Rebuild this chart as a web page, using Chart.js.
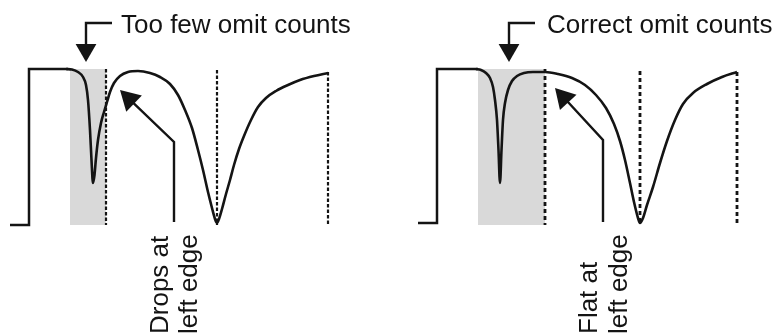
<!DOCTYPE html>
<html>
<head>
<meta charset="utf-8">
<title>Omit counts</title>
<script src="https://cdn.jsdelivr.net/npm/chart.js@4/dist/chart.umd.min.js"></script>
<style>
  html, body { margin: 0; padding: 0; background: #ffffff; overflow: hidden; }
  #wrap { width: 778px; height: 336px; position: relative; }
</style>
</head>
<body>
<div id="wrap"><canvas id="c" width="778" height="336"></canvas></div>
<script>
// ---- Data (diagram units: x across, y down; 1 unit = 1 px) ----
const titles = ['Too few omit counts', 'Correct omit counts'];
const notes = [['Drops at', 'left edge'], ['Flat at', 'left edge']];

// Left panel: "Too few omit counts"
const leftStep = [[10,225],[29,225],[29,69],[68,69]];
const leftCurve = [
  [66,69],[72,69.5],[78,72],[83,77],[86,85],[88,100],[90,130],[91.5,160],[93,183],
  [94.5,175],[96,158],[98,140],[101,123],[104,112],[107,102],[110,92],[114,83],
  [120,76],[128,72],[138,71],[150,73],[160,77],[170,84],[178,95],[185,110],
  [192,128],[198,150],[203,170],[208,192],[212,208],[215,219],[217,223],
  [219,219],[222,209],[226,194],[230,180],[234,165],[239,149],[244,136],[251,120],
  [258,107],[266,98],[276,91],[288,85],[300,80],[314,76],[328,73]
];
const leftShade = [70, 106];
const leftMarkerX = [106, 217, 328];
const leftMarkerTop = [69, 70, 72];

// Right panel: "Correct omit counts"
const rightStep = [[418,223],[437,223],[437,69],[478,69]];
const rightCurve = [
  [476,69],[481,70],[486,73],[490,78],[493,87],[495,100],[497,120],[498.5,150],[500,183],
  [501.5,150],[503,120],[505,103],[508,90],[512,81],[517,76],[524,73],[533,72],
  [545,72],[558,74],[572,78],[585,85],[596,95],[606,108],[614,124],[620,141],
  [625,160],[630,183],[634,202],[638,218],[640,223],[643,218],[647,205],[653,187],
  [660,163],[667,141],[675,120],[683,104],[693,93],[707,84],[722,77],[737,72]
];
const rightShade = [478, 545];
const rightMarkerX = [545, 640, 737];
const rightMarkerTop = [69, 71, 72];

const shadeTop = 69, markerBottom = 225;

// Callout arrows: path corners and arrow tips
const leftBracket = [[112,23],[86,23]];
const leftBracketTip = [86,62];
const rightBracket = [[535,23],[509,23]];
const rightBracketTip = [509,62];
const leftPointer = [[174,222],[174,142]];
const leftPointerTip = [120,90];
const rightPointer = [[603,222],[603,140]];
const rightPointerTip = [555,88];

// ---- Styling / layout ----
const ink = '#141414';
const shadeColor = '#d9d9d9';
const titlePos = [[121,33],[547,33]];
const noteBaselines = [[168,197],[597,627]];
const noteStartY = 334;

const pts = a => a.map(([x,y]) => ({x, y}));

function arrow(path, tip, r) {
  const c = path[path.length - 1];
  const dx = tip[0] - c[0], dy = tip[1] - c[1];
  const L = Math.hypot(dx, dy), ux = dx / L, uy = dy / L;
  const center = {x: tip[0] - ux * r, y: tip[1] - uy * r};
  return {
    shaft: pts(path).concat([center]),
    head: center,
    rotation: Math.atan2(ux, -uy) * 180 / Math.PI,
    r
  };
}

const arrows = [
  arrow(leftBracket, leftBracketTip, 12),
  arrow(rightBracket, rightBracketTip, 12),
  arrow(leftPointer, leftPointerTip, 13),
  arrow(rightPointer, rightPointerTip, 13)
];

const datasets = [];

// shaded windows
[leftShade, rightShade].forEach(s => {
  datasets.push({
    data: [{x: s[0], y: shadeTop}, {x: s[1], y: shadeTop}],
    fill: {value: markerBottom},
    backgroundColor: shadeColor,
    borderWidth: 0,
    order: 10
  });
});

// marker lines
leftMarkerX.forEach((mx, i) => {
  datasets.push({
    data: [{x: mx, y: leftMarkerTop[i]}, {x: mx, y: markerBottom}],
    borderColor: ink, borderWidth: 2.2, borderDash: [3.5, 2], tension: 0, order: 5
  });
});
rightMarkerX.forEach((mx, i) => {
  datasets.push({
    data: [{x: mx, y: rightMarkerTop[i]}, {x: mx, y: markerBottom}],
    borderColor: ink, borderWidth: 2.8, borderDash: [4, 3], tension: 0, order: 5
  });
});

// step + curves
[leftStep, rightStep].forEach(s => {
  datasets.push({data: pts(s), borderColor: ink, borderWidth: 2.5, tension: 0, order: 1});
});
[leftCurve, rightCurve].forEach(c => {
  datasets.push({data: pts(c), borderColor: ink, borderWidth: 2.6,
    cubicInterpolationMode: 'monotone', order: 1});
});

// arrows
arrows.forEach(a => {
  datasets.push({data: a.shaft, borderColor: ink, borderWidth: 2.4, tension: 0,
    borderJoinStyle: 'miter', borderCapStyle: 'butt', order: 1});
  datasets.push({data: [a.head], showLine: false, pointStyle: 'triangle',
    pointRadius: a.r, pointRotation: a.rotation, pointBackgroundColor: ink,
    pointBorderWidth: 0, order: 0});
});

const textPlugin = {
  id: 'diagramText',
  afterDatasetsDraw(chart) {
    const {ctx, scales: {x, y}} = chart;
    ctx.save();
    ctx.fillStyle = ink;
    ctx.font = '26px "Liberation Sans", Arial, Helvetica, sans-serif';
    ctx.textBaseline = 'alphabetic';
    ctx.textAlign = 'left';
    titles.forEach((t, i) => {
      ctx.fillText(t, x.getPixelForValue(titlePos[i][0]), y.getPixelForValue(titlePos[i][1]));
    });
    notes.forEach((lines, i) => {
      lines.forEach((line, j) => {
        ctx.save();
        ctx.translate(x.getPixelForValue(noteBaselines[i][j]), y.getPixelForValue(noteStartY));
        ctx.rotate(-Math.PI / 2);
        ctx.fillText(line, 0, 0);
        ctx.restore();
      });
    });
    ctx.restore();
  }
};

new Chart(document.getElementById('c'), {
  type: 'line',
  data: {datasets},
  options: {
    responsive: false,
    animation: false,
    devicePixelRatio: 1,
    layout: {padding: 0, autoPadding: false},
    elements: {point: {radius: 0, hoverRadius: 0}, line: {fill: false}},
    plugins: {legend: {display: false}, tooltip: {enabled: false}},
    events: [],
    scales: {
      x: {type: 'linear', min: 0, max: 778, display: false},
      y: {type: 'linear', min: 0, max: 336, reverse: true, display: false}
    }
  },
  plugins: [textPlugin]
});
</script>
</body>
</html>
